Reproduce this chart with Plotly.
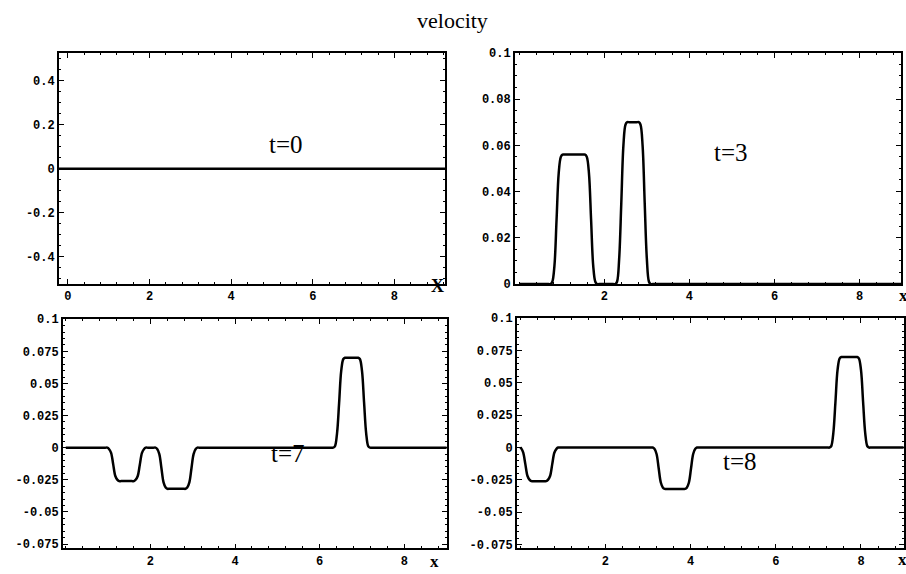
import plotly.graph_objects as go

# ---------------- data ----------------
t0_x = [-0.25, 9.25]
t0_y = [0, 0]

t3_x = [0,
        0.69, 0.74, 0.78, 0.83, 0.88, 0.93, 0.98, 1.02, 1.07,
        1.50, 1.55, 1.59, 1.64, 1.69, 1.74, 1.79, 1.83, 1.88,
        2.21, 2.26, 2.30, 2.35, 2.40, 2.45, 2.50, 2.54, 2.59,
        2.76, 2.81, 2.85, 2.90, 2.95, 3.00, 3.05, 3.09, 3.14,
        9]
t3_y = [0,
        0, 0, 0.001, 0.008, 0.028, 0.048, 0.055, 0.056, 0.056,
        0.056, 0.056, 0.055, 0.048, 0.028, 0.008, 0.001, 0, 0,
        0, 0, 0.001, 0.011, 0.035, 0.060, 0.069, 0.070, 0.070,
        0.070, 0.070, 0.069, 0.060, 0.035, 0.011, 0.001, 0, 0,
        0]

t7_x = [0,
        0.93, 0.98, 1.02, 1.07, 1.12, 1.17, 1.22, 1.26, 1.31,
        1.56, 1.61, 1.65, 1.70, 1.75, 1.80, 1.85, 1.89, 1.94,
        2.07, 2.12, 2.16, 2.21, 2.26, 2.31, 2.36, 2.40, 2.45,
        2.78, 2.83, 2.87, 2.92, 2.97, 3.02, 3.07, 3.11, 3.16,
        6.27, 6.32, 6.36, 6.41, 6.46, 6.51, 6.56, 6.60, 6.65,
        6.86, 6.91, 6.95, 7.00, 7.05, 7.10, 7.15, 7.19, 7.24,
        9]
t7_y = [0,
        0, 0, -0.001, -0.004, -0.013, -0.022, -0.025, -0.026, -0.026,
        -0.026, -0.026, -0.025, -0.022, -0.013, -0.004, -0.001, 0, 0,
        0, 0, -0.001, -0.005, -0.016, -0.027, -0.031, -0.032, -0.032,
        -0.032, -0.032, -0.031, -0.027, -0.016, -0.005, -0.001, 0, 0,
        0, 0, 0.001, 0.011, 0.035, 0.060, 0.069, 0.070, 0.070,
        0.070, 0.070, 0.069, 0.060, 0.035, 0.011, 0.001, 0, 0,
        0]

t8_x = [0, 0.03, 0.07, 0.12, 0.17, 0.22, 0.26, 0.31,
        0.56, 0.61, 0.65, 0.70, 0.75, 0.80, 0.85, 0.89, 0.94,
        3.06, 3.11, 3.15, 3.20, 3.25, 3.30, 3.35, 3.39, 3.44,
        3.82, 3.87, 3.91, 3.96, 4.01, 4.06, 4.11, 4.15, 4.20,
        7.21, 7.26, 7.30, 7.35, 7.40, 7.45, 7.50, 7.54, 7.59,
        7.86, 7.91, 7.95, 8.00, 8.05, 8.10, 8.15, 8.19, 8.24,
        9]
t8_y = [0, -0.001, -0.004, -0.013, -0.022, -0.025, -0.026, -0.026,
        -0.026, -0.026, -0.025, -0.022, -0.013, -0.004, -0.001, 0, 0,
        0, 0, -0.001, -0.005, -0.016, -0.027, -0.031, -0.032, -0.032,
        -0.032, -0.032, -0.031, -0.027, -0.016, -0.005, -0.001, 0, 0,
        0, 0, 0.001, 0.011, 0.035, 0.060, 0.069, 0.070, 0.070,
        0.070, 0.070, 0.069, 0.060, 0.035, 0.011, 0.001, 0, 0,
        0]

x_ticks_tl = [0, 2, 4, 6, 8]
x_ticks = [2, 4, 6, 8]
y_ticks_tl = [-0.4, -0.2, 0, 0.2, 0.4]
y_text_tl = ["-0.4", "-0.2", "0", "0.2", "0.4"]
y_ticks_tr = [0, 0.02, 0.04, 0.06, 0.08, 0.1]
y_text_tr = ["0", "0.02", "0.04", "0.06", "0.08", "0.1"]
y_ticks_b = [-0.075, -0.05, -0.025, 0, 0.025, 0.05, 0.075, 0.1]
y_text_b = ["-0.075", "-0.05", "-0.025", "0", "0.025", "0.05", "0.075", "0.1"]

panel_labels = ["t=0", "t=3", "t=7", "t=8"]
title_text = "velocity"

# ---------------- figure ----------------
fig = go.Figure()
line = dict(color="black", width=2.5, shape="spline", smoothing=1)
fig.add_trace(go.Scatter(x=t0_x, y=t0_y, mode="lines", line=dict(color="black", width=2.5), xaxis="x", yaxis="y"))
fig.add_trace(go.Scatter(x=t3_x, y=t3_y, mode="lines", line=line, xaxis="x2", yaxis="y2"))
fig.add_trace(go.Scatter(x=t7_x, y=t7_y, mode="lines", line=line, xaxis="x3", yaxis="y3"))
fig.add_trace(go.Scatter(x=t8_x, y=t8_y, mode="lines", line=line, xaxis="x4", yaxis="y4"))

tickfont = dict(family="Liberation Mono", size=12, color="black", weight="bold")


def xax(domain, rng, ticks, anchor, minor_dtick=0.4):
    return dict(domain=domain, range=rng, anchor=anchor, tickmode="array", tickvals=ticks,
                ticktext=[str(t) for t in ticks], ticks="inside", ticklen=5, tickwidth=1,
                tickcolor="black", showline=True, linecolor="black", linewidth=1.5,
                mirror="allticks", showgrid=False, zeroline=False, tickfont=tickfont,
                minor=dict(ticks="inside", ticklen=2.5, tickwidth=1, tickcolor="black",
                           dtick=minor_dtick, tick0=0, showgrid=False))


def yax(domain, rng, ticks, text, anchor, minor_dtick):
    return dict(domain=domain, range=rng, anchor=anchor, tickmode="array", tickvals=ticks,
                ticktext=text, ticks="inside", ticklen=5, tickwidth=1,
                tickcolor="black", showline=True, linecolor="black", linewidth=1.5,
                mirror="allticks", showgrid=False, zeroline=False, tickfont=tickfont,
                minor=dict(ticks="inside", ticklen=2.5, tickwidth=1, tickcolor="black",
                           dtick=minor_dtick, tick0=0, showgrid=False))


W, H = 906, 574
def px(a, b):
    return [a / W, b / W]
def py(top, bottom):
    return [1 - bottom / H, 1 - top / H]

fig.update_layout(
    width=W, height=H, margin=dict(l=0, r=0, t=0, b=0),
    paper_bgcolor="white", plot_bgcolor="white", showlegend=False,
    xaxis=xax(px(59, 446), [-0.22, 9.24], x_ticks_tl, "y"),
    yaxis=yax(py(48, 285), [-0.525, 0.527], y_ticks_tl, y_text_tl, "x", 0.05),
    xaxis2=xax(px(516, 903), [-0.1, 8.97], x_ticks, "y2"),
    yaxis2=yax(py(48, 285), [0, 0.1], y_ticks_tr, y_text_tr, "x2", 0.005),
    xaxis3=xax(px(63, 448), [-0.07, 9.01], x_ticks, "y3"),
    yaxis3=yax(py(321, 556), [-0.0784, 0.1], y_ticks_b, y_text_b, "x3", 0.005),
    xaxis4=xax(px(518, 906), [-0.08, 9.01], x_ticks, "y4"),
    yaxis4=yax(py(320, 556), [-0.078, 0.1], y_ticks_b, y_text_b, "x4", 0.005),
)

serif = "Liberation Serif"
ann = []
ann.append(dict(text=title_text, x=453 / W, y=1 - 15 / H, xref="paper", yref="paper",
                xanchor="center", yanchor="middle",
                showarrow=False, font=dict(family=serif, size=22, color="black")))
label_pos = [(287, 142), (733, 150), (289, 459), (742, 467)]
for lab, (lx, ly) in zip(panel_labels, label_pos):
    ann.append(dict(text=lab, x=lx / W, y=1 - ly / H, xref="paper", yref="paper",
                    xanchor="center", yanchor="middle",
                    showarrow=False, font=dict(family=serif, size=25, color="black")))
x_label_pos = [("X", 438, 287, 18), ("x", 905, 297, 17), ("x", 435, 569, 17), ("x", 904, 567, 17)]
for lab, lx, ly, fs in x_label_pos:
    ann.append(dict(text="<b>" + lab + "</b>", x=lx / W, y=1 - ly / H, xref="paper", yref="paper",
                    xanchor="center", yanchor="middle",
                    showarrow=False, font=dict(family=serif, size=fs, color="black")))
fig.update_layout(annotations=ann)

fig.write_html("out.html")
